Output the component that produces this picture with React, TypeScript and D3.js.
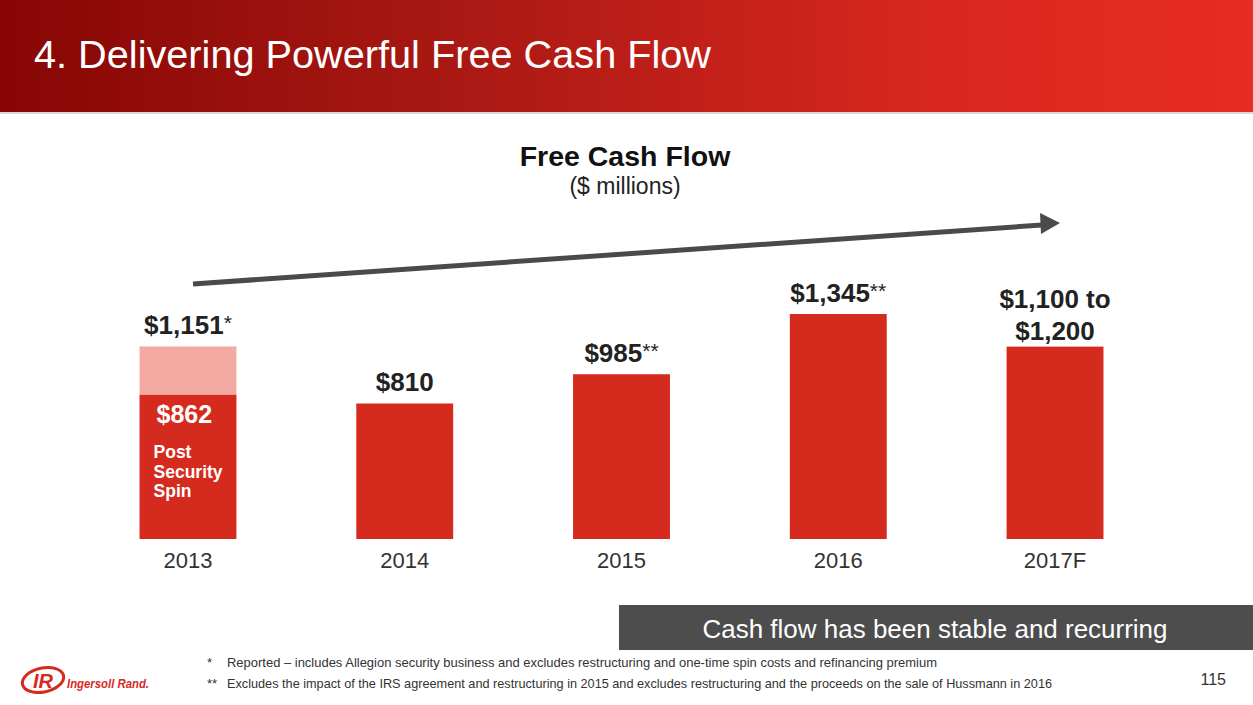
import React from "react";
import * as d3 from "d3";

const categories = ["2013", "2014", "2015", "2016", "2017F"];
const totalValues = [1151, 810, 985, 1345, 1150];
const baseValues = [862, 810, 985, 1345, 1150];
const valueLabels = [["$1,151", "*"], ["$810", ""], ["$985", "**"], ["$1,345", "**"], ["$1,100 to\n$1,200", ""]];
const footnotes = [
  ["*", "Reported – includes Allegion security business and excludes restructuring and one-time spin costs and refinancing premium"],
  ["**", "Excludes the impact of the IRS agreement and restructuring in 2015 and excludes restructuring and the proceeds on the sale of Hussmann in 2016"],
];
const footnoteWidths = [710, 825];

const W = 1253, H = 705;
const FONT = "'Liberation Sans', Arial, Helvetica, sans-serif";

export default function App() {
  const x = d3.scaleBand().domain(categories).range([81, 1162]).paddingInner(0.553).paddingOuter(0.27);
  const baseline = 539;
  const y = d3.scaleLinear().domain([0, 1345]).range([baseline, 314]);
  const bw = x.bandwidth();

  return (
    <div style={{ position: "absolute", left: 0, top: 0 }}>
      <svg width={W} height={H} style={{ display: "block", fontFamily: FONT }}>
        <defs>
          <linearGradient id="hdr" x1="0" x2="1" y1="0" y2="0">
            <stop offset="0" stopColor="#870604" />
            <stop offset="0.35" stopColor="#a81813" />
            <stop offset="0.75" stopColor="#d9271f" />
            <stop offset="1" stopColor="#e62c24" />
          </linearGradient>
        </defs>
        <rect x={0} y={0} width={W} height={H} fill="#fff" />
        <rect x={0} y={0} width={W} height={112} fill="url(#hdr)" />
        <rect x={0} y={112} width={W} height={2} fill="#d9d9d9" />
        <text x={34} y={68} fill="#fff" fontSize={39} textLength={677} lengthAdjust="spacingAndGlyphs">
          4. Delivering Powerful Free Cash Flow
        </text>

        <text x={625} y={166} textAnchor="middle" fontSize={28.5} fontWeight="bold" fill="#111">Free Cash Flow</text>
        <text x={625} y={194} textAnchor="middle" fontSize={23} fill="#222">($ millions)</text>

        {/* trend arrow */}
        <line x1={193} y1={284} x2={1042} y2={225} stroke="#4a4a4a" strokeWidth={5} />
        <polygon points="1040,213 1060,223 1041,234" fill="#4a4a4a" />

        {categories.map((c, i) => {
          const x0 = x(c)!;
          const cx = x0 + bw / 2;
          const top = y(totalValues[i]);
          const baseTop = y(baseValues[i]);
          const [lbl, star] = valueLabels[i];
          const lines = lbl.split("\n");
          return (
            <g key={c}>
              {totalValues[i] > baseValues[i] && (
                <rect x={x0} y={top} width={bw} height={baseTop - top} fill="#f2aaa3" />
              )}
              <rect x={x0} y={baseTop} width={bw} height={baseline - baseTop} fill="#d52b1e" />
              {lines.length === 1 ? (
                <text x={cx} y={top - 12} textAnchor="middle" fontSize={26} fontWeight="bold" fill="#222">
                  {lbl}
                  {star && <tspan fontWeight="normal" fontSize={21} dy={-4}>{star}</tspan>}
                </text>
              ) : (
                lines.map((l, j) => (
                  <text key={j} x={cx} y={top - 39 + j * 32} textAnchor="middle" fontSize={26} fontWeight="bold" fill="#222">{l}</text>
                ))
              )}
              <text x={cx} y={568} textAnchor="middle" fontSize={22} fill="#333">{c}</text>
            </g>
          );
        })}

        {/* inside 2013 bar */}
        <text x={x(categories[0])! + 17} y={y(baseValues[0]) + 28} fontSize={25} fontWeight="bold" fill="#fff">$862</text>
        {["Post", "Security", "Spin"].map((t, j) => (
          <text key={t} x={x(categories[0])! + 14} y={458 + j * 19.5} fontSize={17.5} fontWeight="bold" fill="#fff">{t}</text>
        ))}

        {/* callout box */}
        <rect x={619} y={605} width={W - 619} height={45} fill="#4d4d4d" />
        <text x={935} y={638} textAnchor="middle" fontSize={26} fill="#fff" textLength={465} lengthAdjust="spacingAndGlyphs">Cash flow has been stable and recurring</text>

        {/* footnotes */}
        {footnotes.map(([s, t], i) => (
          <g key={i}>
            <text x={207} y={667 + i * 21} fontSize={13} fill="#333">{s}</text>
            <text x={227} y={667 + i * 21} fontSize={13} fill="#333" textLength={footnoteWidths[i]} lengthAdjust="spacingAndGlyphs">{t}</text>
          </g>
        ))}
        <text x={1226} y={685} textAnchor="end" fontSize={16} fill="#333">115</text>

        {/* logo */}
        <g>
          <ellipse cx={43} cy={680} rx={21} ry={12} fill="none" stroke="#d52b1e" strokeWidth={3} transform="rotate(-12 43 680)" />
          <text x={43} y={688} textAnchor="middle" fontSize={20} fontWeight="bold" fontStyle="italic" fill="#d52b1e">IR</text>
          <text x={67} y={688} fontSize={13} fontWeight="bold" fontStyle="italic" fill="#d52b1e" textLength={82} lengthAdjust="spacingAndGlyphs">Ingersoll Rand.</text>
        </g>
      </svg>
    </div>
  );
}
